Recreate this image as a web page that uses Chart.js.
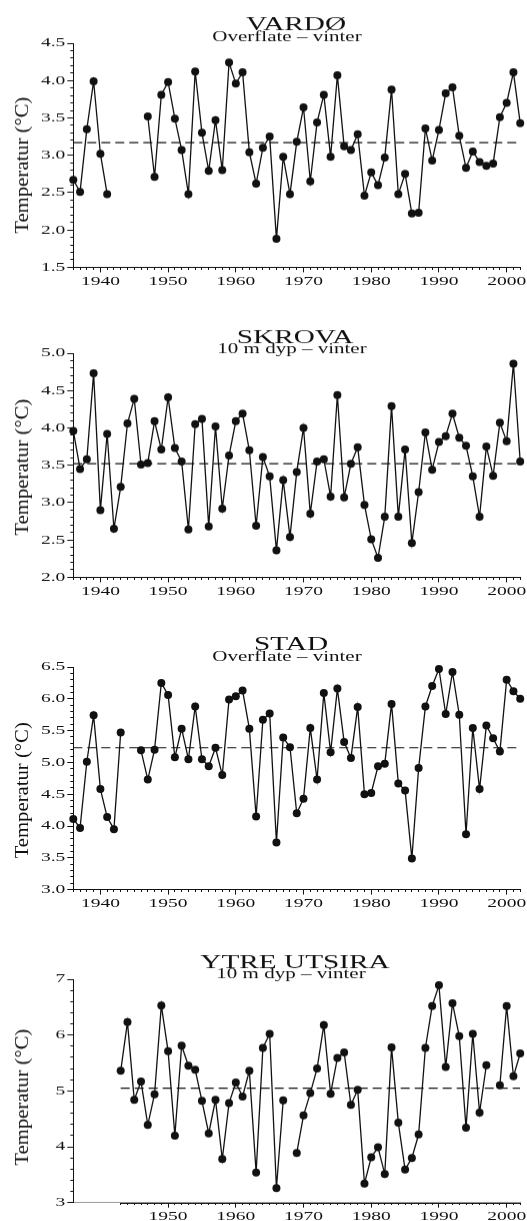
<!DOCTYPE html>
<html>
<head>
<meta charset="utf-8">
<script src="https://cdn.jsdelivr.net/npm/chart.js@4.4.1/dist/chart.umd.min.js"></script>
<style>
  body { margin: 0; background: #fff; width: 527px; height: 1221px; position: relative; overflow: hidden; }
  .panel { position: absolute; left: 0; width: 527px; }
</style>
</head>
<body>
<div class="panel" id="p0"><canvas id="c0"></canvas></div>
<div class="panel" id="p1"><canvas id="c1"></canvas></div>
<div class="panel" id="p2"><canvas id="c2"></canvas></div>
<div class="panel" id="p3"><canvas id="c3"></canvas></div>
<script>
// år 1936-2002
const years = [
  1936, 1937, 1938, 1939, 1940, 1941, 1942, 1943, 1944, 1945,
  1946, 1947, 1948, 1949, 1950, 1951, 1952, 1953, 1954, 1955,
  1956, 1957, 1958, 1959, 1960, 1961, 1962, 1963, 1964, 1965,
  1966, 1967, 1968, 1969, 1970, 1971, 1972, 1973, 1974, 1975,
  1976, 1977, 1978, 1979, 1980, 1981, 1982, 1983, 1984, 1985,
  1986, 1987, 1988, 1989, 1990, 1991, 1992, 1993, 1994, 1995,
  1996, 1997, 1998, 1999, 2000, 2001, 2002
];

const vardo = [
  2.67, 2.51, 3.35, 3.99, 3.02, 2.48, null, null, null, null,
  null, 3.52, 2.71, 3.81, 3.98, 3.49, 3.07, 2.48, 4.12, 3.30,
  2.79, 3.47, 2.80, 4.24, 3.96, 4.11, 3.04, 2.62, 3.10, 3.25,
  1.88, 2.98, 2.48, 3.18, 3.64, 2.65, 3.44, 3.81, 2.98, 4.07,
  3.12, 3.07, 3.28, 2.46, 2.77, 2.60, 2.97, 3.88, 2.48, 2.75,
  2.22, 2.23, 3.36, 2.93, 3.34, 3.83, 3.91, 3.26, 2.83, 3.05,
  2.91, 2.86, 2.89, 3.51, 3.70, 4.11, 3.43
];

const skrova = [
  3.96, 3.45, 3.58, 4.73, 2.90, 3.92, 2.65, 3.21, 4.06, 4.39,
  3.51, 3.53, 4.09, 3.71, 4.41, 3.73, 3.55, 2.64, 4.05, 4.12,
  2.68, 4.02, 2.92, 3.63, 4.09, 4.19, 3.70, 2.69, 3.61, 3.35,
  2.36, 3.30, 2.54, 3.41, 4.00, 2.85, 3.55, 3.58, 3.08, 4.44,
  3.07, 3.52, 3.74, 2.97, 2.51, 2.26, 2.81, 4.29, 2.81, 3.71,
  2.46, 3.14, 3.94, 3.44, 3.81, 3.89, 4.19, 3.87, 3.76, 3.35,
  2.81, 3.75, 3.36, 4.07, 3.82, 4.86, 3.55
];

const stad = [
  4.11, 3.97, 5.01, 5.74, 4.58, 4.14, 3.95, 5.47, null, null,
  5.19, 4.73, 5.20, 6.25, 6.06, 5.08, 5.53, 5.05, 5.88, 5.05,
  4.94, 5.23, 4.80, 5.99, 6.04, 6.13, 5.53, 4.15, 5.67, 5.77,
  3.74, 5.39, 5.24, 4.20, 4.43, 5.54, 4.73, 6.09, 5.16, 6.16,
  5.32, 5.07, 5.87, 4.50, 4.52, 4.94, 4.98, 5.92, 4.67, 4.56,
  3.49, 4.91, 5.88, 6.20, 6.47, 5.76, 6.42, 5.75, 3.87, 5.54,
  4.58, 5.58, 5.38, 5.17, 6.30, 6.12, 6.00
];

const utsira = [
  null, null, null, null, null, null, null, 5.36, 6.23, 4.84,
  5.17, 4.39, 4.94, 6.53, 5.71, 4.20, 5.81, 5.45, 5.38, 4.82,
  4.24, 4.84, 3.78, 4.78, 5.15, 4.90, 5.36, 3.54, 5.77, 6.02,
  3.26, 4.83, null, 3.89, 4.56, 4.96, 5.40, 6.18, 4.95, 5.59,
  5.69, 4.75, 5.02, 3.34, 3.81, 3.99, 3.51, 5.78, 4.43, 3.59,
  3.80, 4.22, 5.77, 6.52, 6.89, 5.43, 6.57, 5.98, 4.34, 6.02,
  4.61, 5.46, null, 5.10, 6.52, 5.26, 5.67
];

// middelverdi (stiplet linje) og årene den går mellom
const means = [3.17, 3.52, 5.23, 5.05];
const meanFrom = [1936, 1936, 1936, 1943];
const meanTo = [2002, 2002, 2002, 2002];

const titles = ["VARDØ", "SKROVA", "STAD", "YTRE UTSIRA"];
const subtitles = ["Overflate – vinter", "10 m dyp – vinter", "Overflate – vinter", "10 m dyp – vinter"];

const xTickLabels = [1940, 1950, 1960, 1970, 1980, 1990, 2000];
const yTicksVardo = [1.5, 2.0, 2.5, 3.0, 3.5, 4.0, 4.5];
const yTicksSkrova = [2.0, 2.5, 3.0, 3.5, 4.0, 4.5, 5.0];
const yTicksStad = [3.0, 3.5, 4.0, 4.5, 5.0, 5.5, 6.0, 6.5];
const yTicksUtsira = [3, 4, 5, 6, 7];

// Teksten i originalen er strukket i bredden; vi strekker all vannrett tekst.
const TEXT_STRETCH = 1.5;
const origFillText = CanvasRenderingContext2D.prototype.fillText;
CanvasRenderingContext2D.prototype.fillText = function (text, x, y) {
  const m = this.getTransform();
  if (Math.abs(m.b) > 1e-6 || Math.abs(m.c) > 1e-6) return origFillText.call(this, text, x, y);
  this.save();
  this.translate(x, y);
  this.scale(TEXT_STRETCH, 1);
  origFillText.call(this, text, 0, 0);
  this.restore();
};

const FONT = '"Liberation Serif", "Times New Roman", serif';
const INK = "#111";

const panels = [
  { series: vardo, yTicks: yTicksVardo, minorStep: 0.1, decimals: 1, top: 43.3, bottom: 266.7,
    titleX: 296, titleY: 30, subX: 287, subY: 41, labelY: 165, xFrom: 1936 },
  { series: skrova, yTicks: yTicksSkrova, minorStep: 0.1, decimals: 1, top: 353.3, bottom: 576.7,
    titleX: 295, titleY: 343.3, subX: 292, subY: 353.5, labelY: 467, xFrom: 1936 },
  { series: stad, yTicks: yTicksStad, minorStep: 0.1, decimals: 1, top: 666.7, bottom: 889.3,
    titleX: 291, titleY: 649.3, subX: 287, subY: 660.5, labelY: 790, xFrom: 1936 },
  { series: utsira, yTicks: yTicksUtsira, minorStep: 0.2, decimals: 0, top: 979.3, bottom: 1202,
    titleX: 295, titleY: 968.3, subX: 291, subY: 978.5, labelY: 1097, xFrom: 1943 }
];

const PAD_TOP = 45;
const X_AXIS_H = 32;

const isMajor = (list, v) => list.some(m => Math.abs(m - v) < 1e-6);

// tittel, undertittel og akseetikett tegnes på faste steder
const panelText = {
  id: "panelText",
  afterDraw(chart, args, o) {
    const ctx = chart.ctx;
    ctx.save();
    ctx.fillStyle = INK;
    ctx.textAlign = "center";
    ctx.textBaseline = "alphabetic";
    ctx.font = "19.5px " + FONT;
    ctx.fillText(o.title, o.titleX, o.titleY);
    ctx.font = "14px " + FONT;
    ctx.fillText(o.sub, o.subX, o.subY);

    // x-aksen i Utsira: tynn grå del før måleserien starter
    if (o.xFrom > 1936) {
      const xs = chart.scales.x;
      const yy = Math.round(chart.chartArea.bottom) + 0.5;
      ctx.strokeStyle = INK;
      ctx.lineWidth = 1;
      ctx.beginPath();
      ctx.moveTo(xs.getPixelForValue(o.xFrom), yy);
      ctx.lineTo(chart.chartArea.right, yy);
      ctx.stroke();
    }

    ctx.translate(23.5, o.labelY);
    ctx.rotate(-Math.PI / 2);
    ctx.scale(1.15, 1);
    ctx.font = "18px " + FONT;
    ctx.textBaseline = "middle";
    ctx.fillText("Temperatur (°C)", 0, 0);
    ctx.restore();
  }
};

panels.forEach((p, i) => {
  const canvasTop = p.top - PAD_TOP;
  const height = (p.bottom - p.top) + PAD_TOP + X_AXIS_H;
  const wrap = document.getElementById("p" + i);
  wrap.style.top = canvasTop + "px";
  wrap.style.height = height + "px";

  const yMin = p.yTicks[0];
  const yMax = p.yTicks[p.yTicks.length - 1];

  new Chart(document.getElementById("c" + i), {
    type: "line",
    data: {
      datasets: [
        {
          data: years.map((y, k) => ({ x: y, y: p.series[k] })),
          borderColor: INK,
          borderWidth: 1.3,
          pointRadius: 4,
          pointBackgroundColor: INK,
          pointBorderWidth: 0,
          spanGaps: false,
          clip: false,
          order: 1
        },
        {
          data: [{ x: meanFrom[i], y: means[i] }, { x: meanTo[i], y: means[i] }],
          borderColor: INK,
          borderWidth: 1.2,
          borderDash: [9, 5],
          pointRadius: 0,
          order: 2
        }
      ]
    },
    options: {
      responsive: true,
      maintainAspectRatio: false,
      animation: false,
      layout: { padding: { left: 0, right: 6.8, top: PAD_TOP, bottom: 0 } },
      plugins: {
        legend: { display: false },
        tooltip: { enabled: false },
        panelText: {
          title: titles[i], sub: subtitles[i],
          titleX: p.titleX, titleY: p.titleY - canvasTop,
          subX: p.subX, subY: p.subY - canvasTop,
          labelY: p.labelY - canvasTop, xFrom: p.xFrom
        }
      },
      scales: {
        x: {
          type: "linear",
          min: 1936,
          max: 2002,
          afterFit: s => { s.height = X_AXIS_H; },
          afterBuildTicks: s => { s.ticks = s.ticks.filter(t => t.value >= p.xFrom); },
          border: { display: true, color: p.xFrom > 1936 ? "#9a9a9a" : INK, width: 1 },
          grid: {
            drawOnChartArea: false,
            drawTicks: true,
            tickLength: 5,
            color: INK,
            tickBorderDash: c => (c.tick && isMajor(xTickLabels, c.tick.value)) ? [] : [2, 50]
          },
          ticks: {
            stepSize: 1,
            autoSkip: false,
            maxRotation: 0,
            padding: 1,
            color: INK,
            font: { family: FONT, size: 13 },
            callback: v => isMajor(xTickLabels, v) ? String(v) : ""
          }
        },
        y: {
          min: yMin,
          max: yMax,
          afterFit: s => { s.width = 73.3; },
          border: { display: true, color: INK, width: 1 },
          grid: {
            drawOnChartArea: false,
            drawTicks: true,
            tickLength: 6,
            color: INK,
            tickBorderDash: c => (c.tick && isMajor(p.yTicks, c.tick.value)) ? [] : [0, 3, 3, 50]
          },
          ticks: {
            stepSize: p.minorStep,
            autoSkip: false,
            padding: 2,
            color: INK,
            font: { family: FONT, size: 13 },
            callback: v => isMajor(p.yTicks, v) ? Number(v).toFixed(p.decimals) : ""
          }
        }
      }
    },
    plugins: [panelText]
  });
});
</script>
</body>
</html>
